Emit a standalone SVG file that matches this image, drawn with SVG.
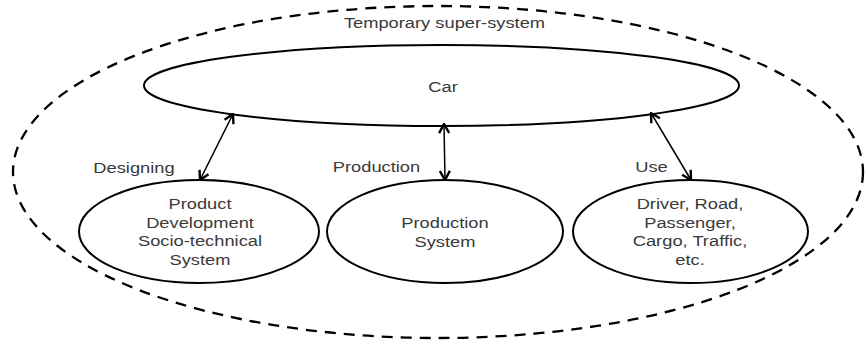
<svg xmlns="http://www.w3.org/2000/svg" width="866" height="340" viewBox="0 0 866 340">
<style>
.node{fill:#fff;stroke:#000;stroke-width:2}
.outer{fill:none;stroke:#000;stroke-width:2.3;stroke-dasharray:11 8}
.t{font-family:"Liberation Sans",Arial,sans-serif;font-size:15px;fill:#3a3a3a;text-anchor:middle}
.conn{stroke:#000;stroke-width:1.5;fill:none;marker-start:url(#ah);marker-end:url(#ah)}
</style>
<defs>
<marker id="ah" viewBox="0 0 12 12" refX="11" refY="6" markerWidth="12" markerHeight="12" markerUnits="userSpaceOnUse" orient="auto-start-reverse">
<path d="M2,1 L11,6 L2,11" fill="none" stroke="#000" stroke-width="2.4"/>
</marker>
</defs>
<g id="super-system">
<ellipse class="outer" cx="438" cy="172" rx="425" ry="166"/>
<text class="t" transform="translate(444.5,28) scale(1.22,1)">Temporary super-system</text>
</g>
<g id="car">
<ellipse class="node" cx="441.5" cy="85.5" rx="297.5" ry="40.5"/>
<text class="t" transform="translate(443,92) scale(1.22,1)">Car</text>
</g>
<g id="product-development">
<ellipse class="node" cx="199" cy="231.5" rx="120" ry="51.5"/>
<text class="t" transform="translate(200,209) scale(1.22,1)">Product</text>
<text class="t" transform="translate(200,228) scale(1.22,1)">Development</text>
<text class="t" transform="translate(200,246) scale(1.22,1)">Socio-technical</text>
<text class="t" transform="translate(200,265) scale(1.22,1)">System</text>
</g>
<g id="production-system">
<ellipse class="node" cx="445" cy="231.5" rx="118" ry="51.5"/>
<text class="t" transform="translate(445,228) scale(1.22,1)">Production</text>
<text class="t" transform="translate(445,247) scale(1.22,1)">System</text>
</g>
<g id="use-environment">
<ellipse class="node" cx="690.5" cy="231.5" rx="117.5" ry="51.5"/>
<text class="t" transform="translate(690,209) scale(1.22,1)">Driver, Road,</text>
<text class="t" transform="translate(690,228) scale(1.22,1)">Passenger,</text>
<text class="t" transform="translate(690,246) scale(1.22,1)">Cargo, Traffic,</text>
<text class="t" transform="translate(690,265) scale(1.22,1)">etc.</text>
</g>
<g id="connectors">
<line class="conn" x1="233" y1="114" x2="200" y2="180"/>
<line class="conn" x1="444" y1="124" x2="445" y2="180"/>
<line class="conn" x1="651" y1="113" x2="691" y2="180"/>
<text class="t" transform="translate(134,173) scale(1.22,1)">Designing</text>
<text class="t" transform="translate(376.5,172) scale(1.22,1)">Production</text>
<text class="t" transform="translate(651.5,172) scale(1.22,1)">Use</text>
</g>
</svg>
